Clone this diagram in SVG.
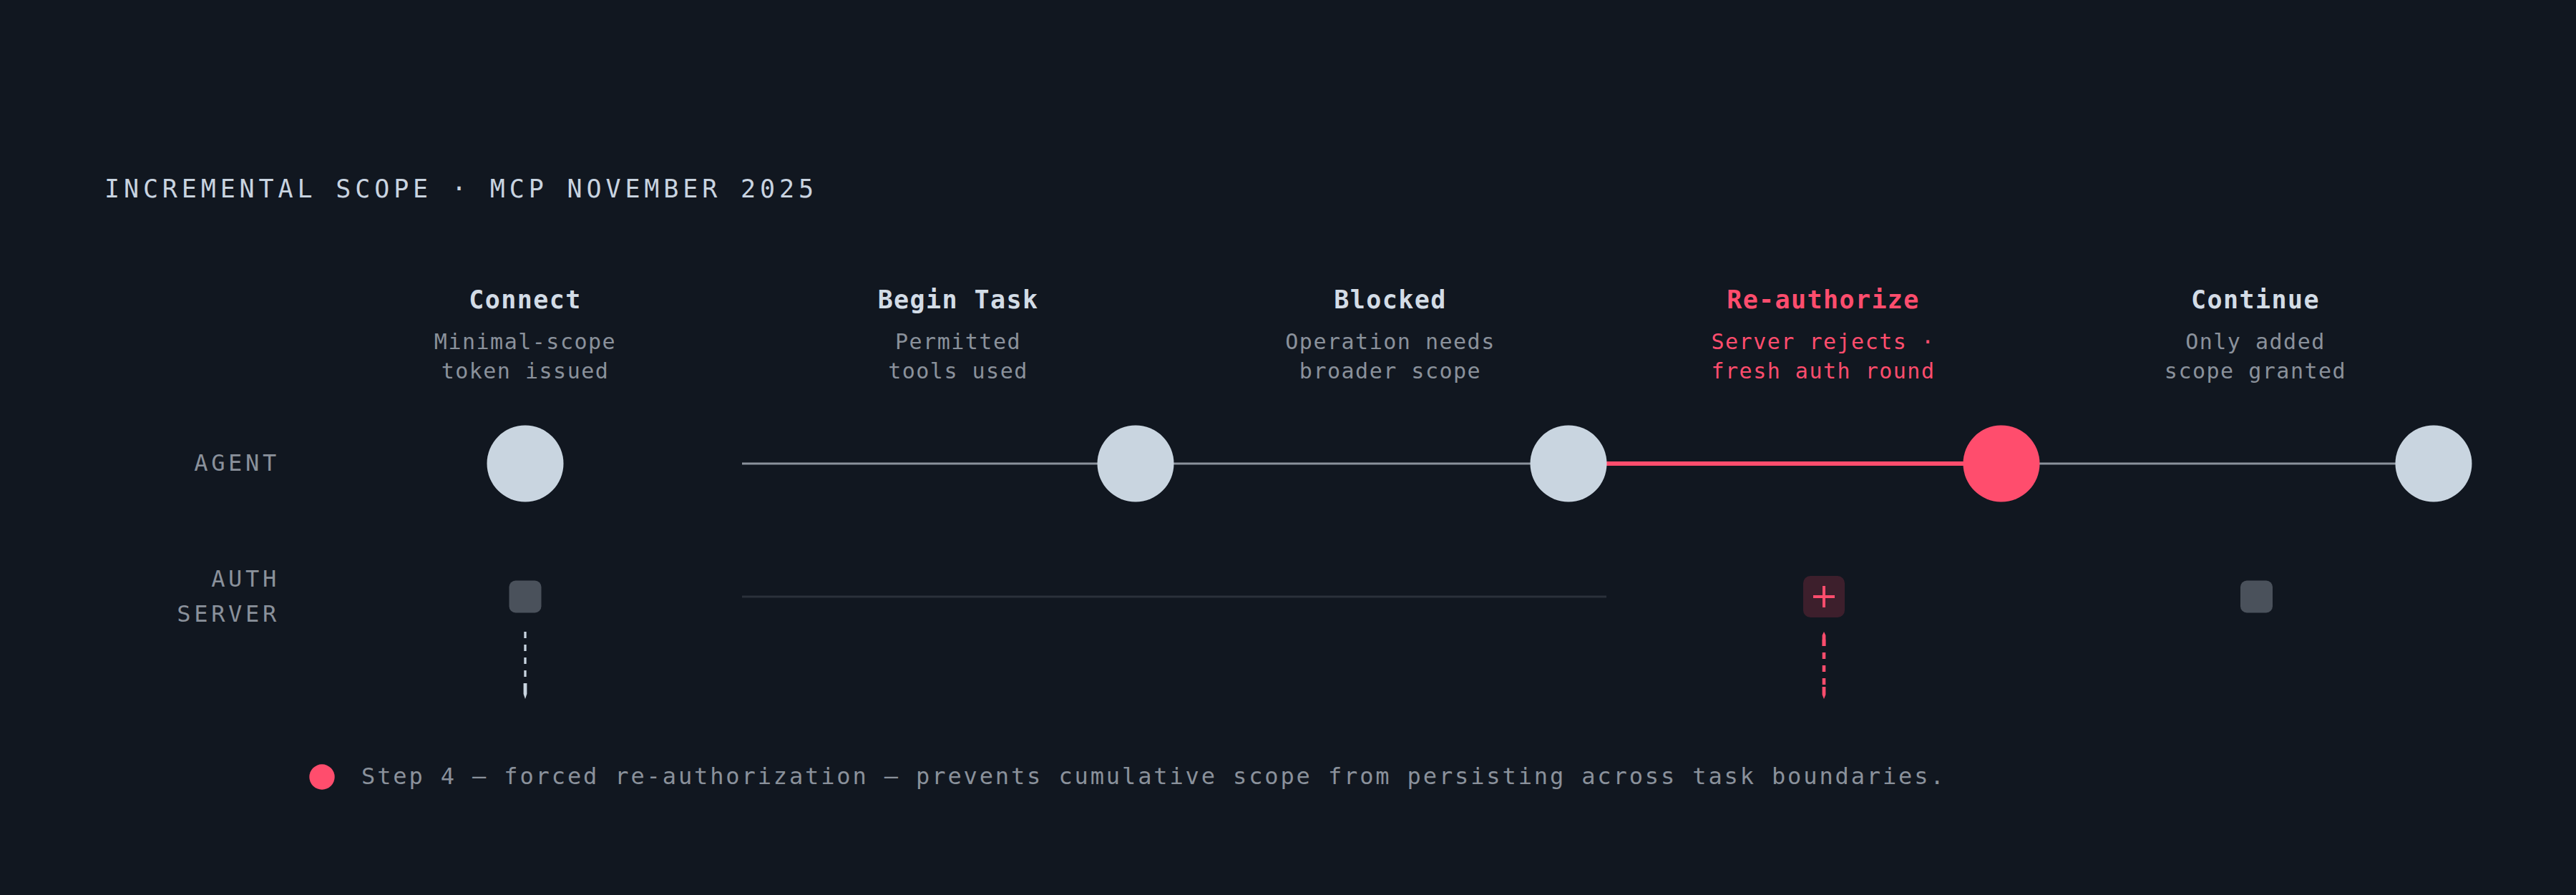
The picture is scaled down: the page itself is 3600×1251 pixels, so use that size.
<svg xmlns="http://www.w3.org/2000/svg" width="3600" height="1251" viewBox="0 0 3600 1251">
<style>
.mono{font-family:"DejaVu Sans Mono","Liberation Mono",monospace;}
.heading{font-size:35px;fill:#c9d4e0;letter-spacing:5.87px;}
.lane{font-size:32px;fill:#8a919b;letter-spacing:4.7px;text-anchor:end;}
.stitle{font-size:35px;font-weight:bold;fill:#d3dce6;letter-spacing:1.4px;text-anchor:middle;}
.ssub{font-size:30px;fill:#8a919b;letter-spacing:1.5px;text-anchor:middle;}
.red{fill:#ff4d6d;}
.agent{fill:#c9d5e0;}
.agent-hot{fill:#ff4d6d;}
.srv{fill:#4a515b;}
.srv-hot{fill:#3d1f2c;}
.footer{font-size:32px;fill:#8a919b;letter-spacing:2.88px;}
.seg{stroke:#8b929c;stroke-width:3;fill:none;}
.seg-hot{stroke:#ff4d6d;stroke-width:6;fill:none;}
.seg-srv{stroke:#2b313a;stroke-width:3;fill:none;}
.dash{stroke:#c9d5e0;stroke-width:3.3;stroke-dasharray:9 9;fill:none;}
.dash-hot{stroke:#ff4d6d;stroke-width:4.6;stroke-dasharray:9 9;fill:none;}
</style>
<rect x="0" y="0" width="3600" height="1251" fill="#111720"/>
<text class="mono heading" x="146" y="276">INCREMENTAL SCOPE · MCP NOVEMBER 2025</text>
<g id="lane-labels">
<text class="mono lane" x="391" y="658">AGENT</text>
<text class="mono lane" x="391" y="820">AUTH</text>
<text class="mono lane" x="391" y="869">SERVER</text>
</g>
<g id="connectors">
<line class="seg" x1="1037" y1="648" x2="1641" y2="648"/>
<line class="seg" x1="1641" y1="648" x2="2245" y2="648"/>
<line class="seg-hot" x1="2245" y1="648" x2="2850" y2="648"/>
<line class="seg" x1="2850" y1="648" x2="3454" y2="648"/>
<line class="seg-srv" x1="1037" y1="834" x2="1641" y2="834"/>
<line class="seg-srv" x1="1641" y1="834" x2="2245" y2="834"/>
<line class="dash" x1="734" y1="883" x2="734" y2="955"/>
<polygon fill="#c9d5e0" points="731.6,955 736.4,955 736.4,970 734,977 731.6,970"/>
<line class="dash-hot" x1="2549" y1="894" x2="2549" y2="966"/>
<polygon fill="#ff4d6d" points="2549,883 2551.4,888 2551.4,903 2546.6,903 2546.6,888"/>
<polygon fill="#ff4d6d" points="2546.6,960 2551.4,960 2551.4,971 2549,977 2546.6,971"/>
</g>
<g id="step-connect">
<text class="mono stitle" x="734" y="431">Connect</text>
<text class="mono ssub" x="734" y="488">Minimal-scope</text>
<text class="mono ssub" x="734" y="529">token issued</text>
<circle class="agent" cx="734" cy="648" r="53.5"/>
<rect class="srv" x="711.5" y="811.5" width="45" height="45" rx="9"/>
</g>
<g id="step-begin-task">
<text class="mono stitle" x="1339" y="431">Begin Task</text>
<text class="mono ssub" x="1339" y="488">Permitted</text>
<text class="mono ssub" x="1339" y="529">tools used</text>
<circle class="agent" cx="1587" cy="648" r="53.5"/>
</g>
<g id="step-blocked">
<text class="mono stitle" x="1943" y="431">Blocked</text>
<text class="mono ssub" x="1943" y="488">Operation needs</text>
<text class="mono ssub" x="1943" y="529">broader scope</text>
<circle class="agent" cx="2192" cy="648" r="53.5"/>
</g>
<g id="step-reauthorize">
<text class="mono stitle red" x="2548" y="431">Re-authorize</text>
<text class="mono ssub red" x="2548" y="488">Server rejects ·</text>
<text class="mono ssub red" x="2548" y="529">fresh auth round</text>
<circle class="agent-hot" cx="2797" cy="648" r="53.5"/>
<rect class="srv-hot" x="2520" y="805" width="58" height="58" rx="10"/>
<path d="M2549 819 V849 M2534 834 H2564" stroke="#ff4d6d" stroke-width="4" fill="none"/>
</g>
<g id="step-continue">
<text class="mono stitle" x="3152" y="431">Continue</text>
<text class="mono ssub" x="3152" y="488">Only added</text>
<text class="mono ssub" x="3152" y="529">scope granted</text>
<circle class="agent" cx="3401" cy="648" r="53.5"/>
<rect class="srv" x="3131" y="811.5" width="45" height="45" rx="9"/>
</g>
<g id="legend">
<circle cx="450" cy="1086" r="17.7" fill="#ff4d6d"/>
<text class="mono footer" x="505" y="1096">Step 4 — forced re-authorization — prevents cumulative scope from persisting across task boundaries.</text>
</g>
</svg>
